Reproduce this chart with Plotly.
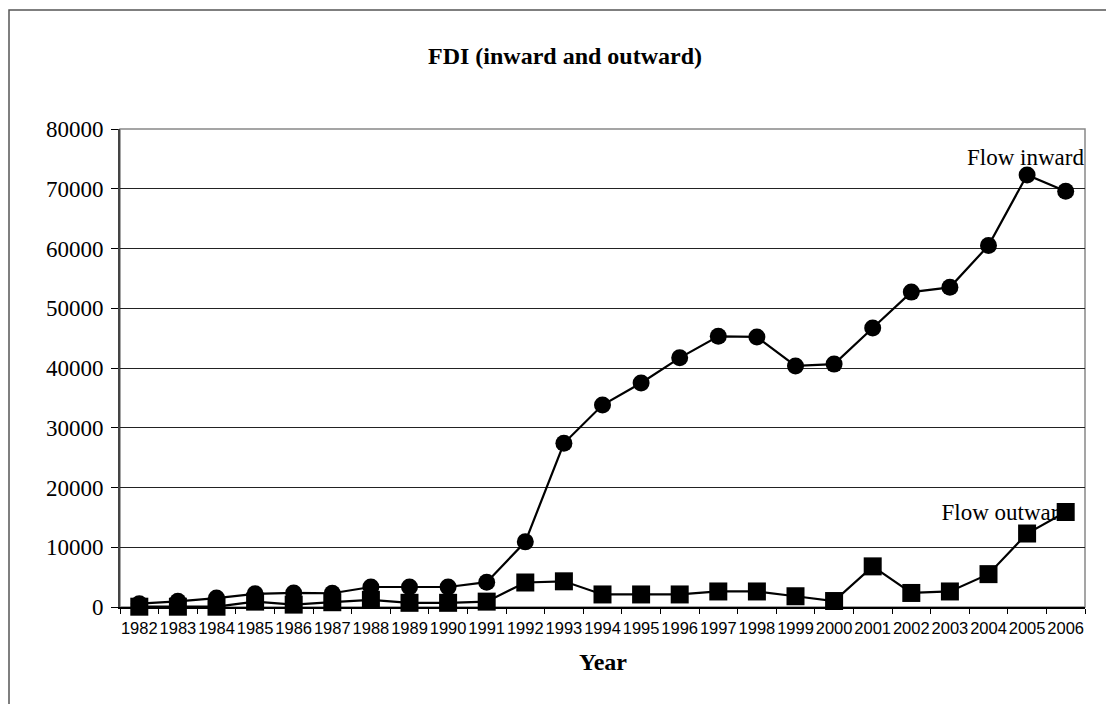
import plotly.graph_objects as go

# FDI flows, 1982-2006
years = [str(y) for y in range(1982, 2007)]
flow_inward = [550, 950, 1500, 2200, 2350, 2300, 3350, 3350, 3350, 4150,
               10900, 27400, 33800, 37500, 41700, 45300, 45200, 40350, 40650,
               46700, 52700, 53500, 60500, 72300, 69600]
flow_outward = [50, 50, 50, 900, 400, 800, 1200, 700, 700, 900,
                4100, 4300, 2100, 2100, 2100, 2600, 2600, 1800, 1000,
                6800, 2350, 2600, 5500, 12300, 15900]
y_ticks = list(range(0, 80001, 10000))

SERIF = "Liberation Serif, Times New Roman, serif"
SANS = "Liberation Sans, Arial, sans-serif"

W, H = 1106, 704
L, R, T, B = 120, 21, 129, 97
pw, ph = W - L - R, H - T - B

fig = go.Figure()
fig.add_trace(go.Scatter(
    x=years, y=flow_inward, mode="lines+markers", name="Flow inward",
    line=dict(color="black", width=2.2),
    marker=dict(symbol="circle", size=17, color="black"),
    cliponaxis=False,
))
fig.add_trace(go.Scatter(
    x=years, y=flow_outward, mode="lines+markers", name="Flow outward",
    line=dict(color="black", width=2.2),
    marker=dict(symbol="square", size=18, color="black"),
    cliponaxis=False,
))

def px_x(p):
    return (p - L) / pw

def px_y(p):
    return (H - B - p) / ph

shapes = [
    # outer chart frame
    dict(type="rect", xref="paper", yref="paper",
         x0=px_x(9), x1=px_x(W + 20), y0=px_y(H + 20), y1=px_y(10),
         line=dict(color="#555", width=1.5), fillcolor="rgba(0,0,0,0)", layer="below"),
    # plot area frame
    dict(type="rect", xref="paper", yref="paper", x0=0, x1=1, y0=0, y1=1,
         line=dict(color="#888", width=1.5), fillcolor="rgba(0,0,0,0)", layer="between"),
    # series labels, kept beneath the markers
    dict(type="rect", xref="paper", yref="y",
         x0=px_x(900), x1=px_x(1087), y0=73700, y1=77700,
         line=dict(width=0), fillcolor="rgba(0,0,0,0)", layer="between",
         label=dict(text="Flow inward", textposition="middle right", padding=0,
                    font=dict(family=SERIF, size=23, color="black"))),
    dict(type="rect", xref="paper", yref="y",
         x0=px_x(900), x1=px_x(1073), y0=14400, y1=18400,
         line=dict(width=0), fillcolor="rgba(0,0,0,0)", layer="between",
         label=dict(text="Flow outward", textposition="middle right", padding=0,
                    font=dict(family=SERIF, size=23, color="black"))),
]

fig.update_layout(
    width=W, height=H,
    margin=dict(l=L, r=R, t=T, b=B, pad=0),
    paper_bgcolor="white", plot_bgcolor="white",
    showlegend=False,
    title=dict(text="<b>FDI (inward and outward)</b>", xref="container", yref="container",
               x=565 / W, xanchor="center", y=1 - 56 / H, yanchor="middle",
               font=dict(family=SERIF, size=24, color="black")),
    xaxis=dict(
        type="category", range=[-0.5, len(years) - 0.5],
        tickson="boundaries", ticks="outside", ticklen=5,
        tickcolor="black", tickwidth=1, showline=True, linecolor="black", linewidth=1.5,
        showgrid=False, tickfont=dict(family=SANS, size=16.5, color="black"),
        tickangle=0, zeroline=False, ticklabelstandoff=5,
    ),
    yaxis=dict(
        range=[0, 80000], tickvals=y_ticks, ticktext=[str(v) for v in y_ticks],
        ticks="outside", ticklen=7, tickcolor="black", tickwidth=1,
        showline=True, linecolor="#444", linewidth=2,
        showgrid=True, gridcolor="#222", gridwidth=1, zeroline=False,
        tickfont=dict(family=SERIF, size=23, color="black"), ticklabelstandoff=3,
    ),
    shapes=shapes,
    annotations=[dict(text="<b>Year</b>", xref="paper", yref="paper",
                      x=0.5, y=px_y(662), xanchor="center", yanchor="middle",
                      showarrow=False, font=dict(family=SERIF, size=24, color="black"))],
)

fig.write_html("out.html")
